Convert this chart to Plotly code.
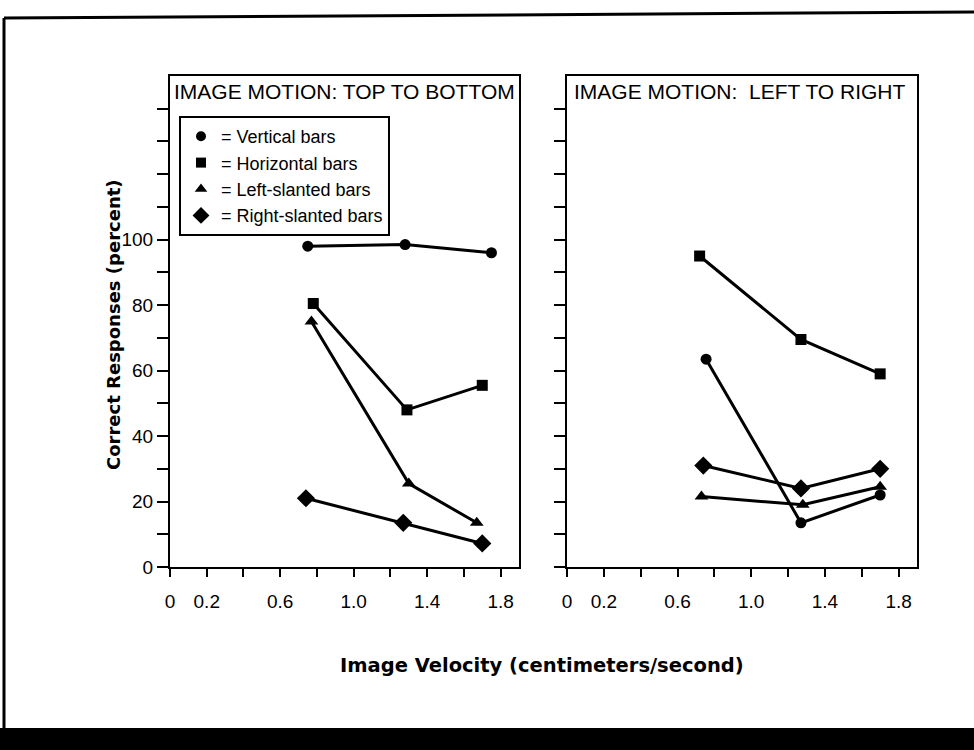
import plotly.graph_objects as go

# ---- data ----
series_names = ["Vertical bars", "Horizontal bars", "Left-slanted bars", "Right-slanted bars"]
symbols = ["circle", "square", "triangle-up", "diamond"]

# Panel 1: image motion top to bottom
tb_vert_x = [0.75, 1.28, 1.75]
tb_vert_y = [98, 98.5, 96]
tb_horiz_x = [0.78, 1.29, 1.70]
tb_horiz_y = [80.5, 48, 55.5]
tb_left_x = [0.77, 1.30, 1.67]
tb_left_y = [75, 25.5, 13.5]
tb_right_x = [0.74, 1.27, 1.70]
tb_right_y = [21, 13.5, 7.2]

# Panel 2: image motion left to right
lr_vert_x = [0.755, 1.27, 1.70]
lr_vert_y = [63.5, 13.5, 22]
lr_horiz_x = [0.72, 1.27, 1.70]
lr_horiz_y = [95, 69.5, 59]
lr_left_x = [0.73, 1.28, 1.70]
lr_left_y = [21.5, 19, 24.5]
lr_right_x = [0.74, 1.27, 1.70]
lr_right_y = [31, 24, 30]

x_tickvals = [0, 0.2, 0.4, 0.6, 0.8, 1.0, 1.2, 1.4, 1.6, 1.8]
x_ticktext = ["0", "0.2", "", "0.6", "", "1.0", "", "1.4", "", "1.8"]
y_tickvals = [0, 10, 20, 30, 40, 50, 60, 70, 80, 90, 100, 110, 120, 130, 140]
y_ticktext = ["0", "", "20", "", "40", "", "60", "", "80", "", "100", "", "", "", ""]

panel_titles = ["IMAGE MOTION: TOP TO BOTTOM", "IMAGE MOTION:  LEFT TO RIGHT"]
y_title = "Correct Responses (percent)"
x_title = "Image Velocity (centimeters/second)"

# ---- figure ----
W, H = 974, 750
ML, MR, MT, MB = 170, 57, 76, 183
PW, PH = W - ML - MR, H - MT - MB

def px(xp):
    return (xp - ML) / PW

def py(yp):
    return (H - MB - yp) / PH

fig = go.Figure()

marker_sizes = [11, 11, 12, 14]
panel1 = [(tb_vert_x, tb_vert_y), (tb_horiz_x, tb_horiz_y), (tb_left_x, tb_left_y), (tb_right_x, tb_right_y)]
panel2 = [(lr_vert_x, lr_vert_y), (lr_horiz_x, lr_horiz_y), (lr_left_x, lr_left_y), (lr_right_x, lr_right_y)]

for i, (xs, ys) in enumerate(panel1):
    fig.add_trace(go.Scatter(x=xs, y=ys, mode="lines+markers", xaxis="x", yaxis="y",
                             line=dict(color="black", width=3),
                             marker=dict(symbol=symbols[i], size=marker_sizes[i], color="black"),
                             showlegend=False))
for i, (xs, ys) in enumerate(panel2):
    fig.add_trace(go.Scatter(x=xs, y=ys, mode="lines+markers", xaxis="x2", yaxis="y2",
                             line=dict(color="black", width=3),
                             marker=dict(symbol=symbols[i], size=marker_sizes[i], color="black"),
                             showlegend=False))
# legend entries
for i, name in enumerate(series_names):
    fig.add_trace(go.Scatter(x=[None], y=[None], mode="markers", xaxis="x", yaxis="y",
                             marker=dict(symbol=symbols[i], size=marker_sizes[i] - 1, color="black"),
                             name="= " + name, showlegend=True))

axis_common = dict(range=[0, 1.9], tickvals=x_tickvals, ticktext=x_ticktext,
                   showline=True, linecolor="black", linewidth=2, mirror=True,
                   ticks="outside", ticklen=8, tickwidth=2, tickcolor="black",
                   showgrid=False, zeroline=False,
                   tickfont=dict(family="Liberation Sans, Arial, sans-serif", size=19, color="black"),
                   ticklabelstandoff=8)
yaxis_common = dict(range=[0, 150], tickvals=y_tickvals,
                    showline=True, linecolor="black", linewidth=2, mirror=True,
                    ticks="outside", ticklen=11, tickwidth=2, tickcolor="black",
                    showgrid=False, zeroline=False,
                    tickfont=dict(family="Liberation Sans, Arial, sans-serif", size=19, color="black"))

fig.update_layout(
    width=W, height=H,
    margin=dict(l=ML, r=MR, t=MT, b=MB),
    paper_bgcolor="white", plot_bgcolor="white",
    xaxis=dict(domain=[0, px(519)], anchor="y", **axis_common),
    yaxis=dict(domain=[0, 1], anchor="x", ticktext=y_ticktext, **yaxis_common),
    xaxis2=dict(domain=[px(567), 1], anchor="y2", **axis_common),
    yaxis2=dict(domain=[0, 1], anchor="x2", ticktext=[""] * len(y_tickvals), **yaxis_common),
    legend=dict(x=px(179), y=py(116), xanchor="left", yanchor="top",
                bordercolor="black", borderwidth=2, bgcolor="white",
                font=dict(family="Liberation Sans, Arial, sans-serif", size=18, color="black"),
                tracegroupgap=0),
    showlegend=True,
)

annotations = [
    dict(text=panel_titles[0], xref="x domain", yref="y domain", x=0.006, y=py(92),
         xanchor="left", yanchor="middle", showarrow=False,
         font=dict(family="Liberation Sans, Arial, sans-serif", size=21, color="black")),
    dict(text=panel_titles[1], xref="x2 domain", yref="y2 domain", x=0.015, y=py(92),
         xanchor="left", yanchor="middle", showarrow=False,
         font=dict(family="Liberation Sans, Arial, sans-serif", size=21, color="black")),
    dict(text="<b>" + y_title + "</b>", xref="paper", yref="paper", x=px(113), y=py(325),
         xanchor="center", yanchor="middle", textangle=-90, showarrow=False,
         font=dict(family="DejaVu Sans, sans-serif", size=18, color="black")),
    dict(text="<b>" + x_title + "</b>", xref="paper", yref="paper", x=px(542), y=py(665),
         xanchor="center", yanchor="middle", showarrow=False,
         font=dict(family="DejaVu Sans, sans-serif", size=19.5, color="black")),
]
fig.update_layout(annotations=annotations)

shapes = [
    dict(type="line", xref="paper", yref="paper", x0=px(4), y0=py(729), x1=px(4), y1=py(18),
         line=dict(color="black", width=3)),
    dict(type="line", xref="paper", yref="paper", x0=px(4), y0=py(18), x1=px(980), y1=py(12),
         line=dict(color="black", width=3)),
    dict(type="rect", xref="paper", yref="paper", x0=px(0), y0=py(752), x1=px(980), y1=py(728),
         fillcolor="black", line=dict(width=0)),
]
fig.update_layout(shapes=shapes)

fig.write_html("out.html", config={"displayModeBar": False},
               post_script="document.body.style.margin='0';document.body.style.overflow='hidden';")
